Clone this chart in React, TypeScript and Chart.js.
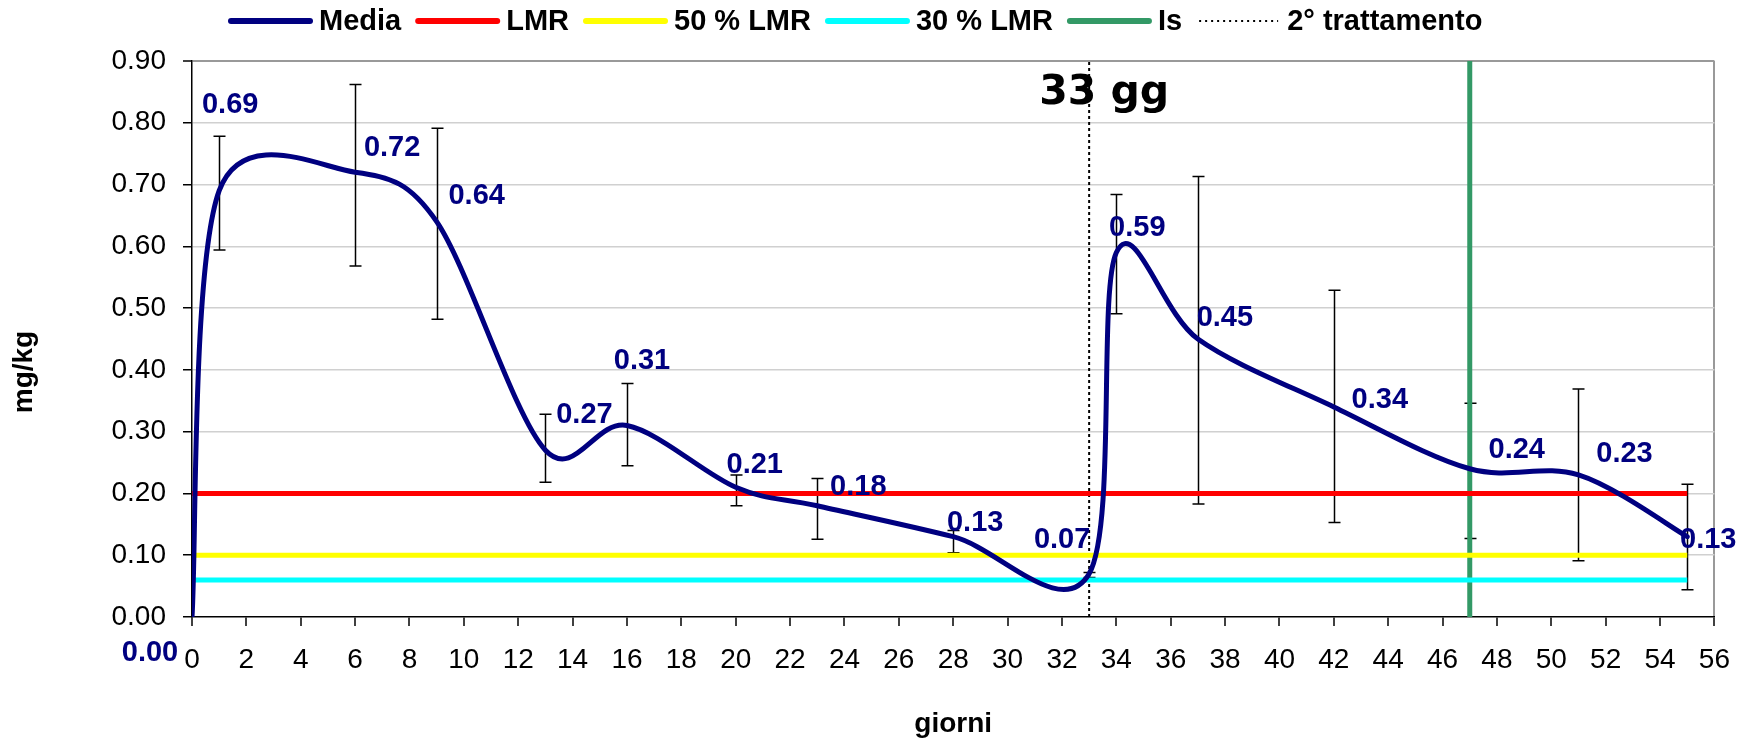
import React, { useEffect, useRef } from 'react';
import { Chart, registerables } from 'chart.js';

Chart.register(...registerables);

// ---- data ----
const days = [0, 1, 6, 9, 13, 16, 20, 23, 28, 33, 34, 37, 42, 47, 51, 55];
const media = [0.0, 0.69, 0.72, 0.64, 0.27, 0.31, 0.21, 0.18, 0.13, 0.07, 0.59, 0.45, 0.34, 0.24, 0.23, 0.13];
const errHigh = [null, 0.778, 0.862, 0.791, 0.328, 0.378, 0.23, 0.224, 0.14, 0.072, 0.684, 0.713, 0.529, 0.346, 0.369, 0.215];
const errLow = [null, 0.594, 0.568, 0.482, 0.218, 0.245, 0.18, 0.126, 0.104, 0.064, 0.491, 0.183, 0.153, 0.127, 0.091, 0.044];
const limitRange = [0, 55];
const lmrLevel = 0.2;
const lmr50Level = 0.1;
const lmr30Level = 0.06;
const isDay = 47;
const secondTreatmentDay = 33;
const yRange = [0, 0.9];
const xRange = [0, 56];
const annotationText = '33 gg';
const xTitle = 'giorni';
const yTitle = 'mg/kg';

// ---- layout (label offsets in px, not data) ----
const labelDx = [-42, 11, 37, 40, 39, 15, 19, 41, 22, -27, 21, 27, 46, 47, 46, 21];
const labelDy = [36, -86, -24, -26, -35, -64, -22, -19, -14, -34, -25, -21, -7, -19, -21, 3];

const FONT = "'Liberation Sans', Arial, sans-serif";
const NAVY = '#000080';

const excelSmooth = {
  id: 'excelSmooth',
  beforeDatasetDraw(chart: any, args: any) {
    if (args.index !== 0) return;
    const meta = args.meta;
    const pts = meta.data;
    const n = pts.length;
    const P = (i: number) => pts[Math.max(0, Math.min(n - 1, i))];
    const dist = (a: any, b: any) => Math.hypot(a.x - b.x, a.y - b.y);
    for (let i = 0; i < n; i++) {
      const p = pts[i];
      if (i < n - 1) {
        const p0 = P(i - 1), p2 = P(i + 1);
        const d12 = dist(p, p2), d02 = dist(p0, p2);
        let f = 1 / 6;
        if (d02 > 0 && d02 / 6 > d12 / 2) f = d12 / (2 * d02);
        p.cp2x = p.x + (p2.x - p0.x) * f;
        p.cp2y = p.y + (p2.y - p0.y) * f;
      } else {
        p.cp2x = p.x; p.cp2y = p.y;
      }
      if (i > 0) {
        const p0 = P(i - 1), p3 = P(i + 1);
        const d01 = dist(p0, p), d13 = dist(p0, p3);
        let f = 1 / 6;
        if (d13 > 0 && d13 / 6 > d01 / 2) f = d01 / (2 * d13);
        p.cp1x = p.x - (p3.x - p0.x) * f;
        p.cp1y = p.y - (p3.y - p0.y) * f;
      } else {
        p.cp1x = p.x; p.cp1y = p.y;
      }
    }
    meta.dataset._pointsUpdated = true;
    meta.dataset._path = undefined;
  },
};

const extras = {
  id: 'extras',
  beforeDatasetsDraw(chart: any) {
    const { ctx, scales } = chart;
    const xs = scales.x, ys = scales.y;
    // annotation text
    ctx.save();
    ctx.font = "bold 41px 'DejaVu Sans'";
    ctx.fillStyle = '#000';
    ctx.textAlign = 'center';
    ctx.textBaseline = 'alphabetic';
    ctx.fillText(annotationText, xs.getPixelForValue(secondTreatmentDay) + 15, 104);
    ctx.restore();
    // error bars
    ctx.save();
    ctx.strokeStyle = '#000';
    ctx.lineWidth = 1.5;
    for (let i = 0; i < days.length; i++) {
      const hi = errHigh[i], lo = errLow[i];
      if (hi == null || lo == null) continue;
      const x = Math.round(xs.getPixelForValue(days[i])) + 0.5;
      const yh = ys.getPixelForValue(hi), yl = ys.getPixelForValue(lo);
      ctx.beginPath();
      ctx.moveTo(x, yh); ctx.lineTo(x, yl);
      ctx.moveTo(x - 6, yh); ctx.lineTo(x + 6, yh);
      ctx.moveTo(x - 6, yl); ctx.lineTo(x + 6, yl);
      ctx.stroke();
    }
    ctx.restore();
  },
  afterDatasetsDraw(chart: any) {
    const { ctx, scales } = chart;
    const xs = scales.x, ys = scales.y;
    ctx.save();
    ctx.font = `bold 29px ${FONT}`;
    ctx.fillStyle = NAVY;
    ctx.textAlign = 'center';
    ctx.textBaseline = 'middle';
    for (let i = 0; i < days.length; i++) {
      const x = xs.getPixelForValue(days[i]) + labelDx[i];
      const y = ys.getPixelForValue(media[i]) + labelDy[i];
      ctx.fillText(media[i].toFixed(2), x, y);
    }
    ctx.restore();
  },
  afterDraw(chart: any) {
    const { ctx, chartArea } = chart;
    ctx.save();
    // axis titles
    ctx.font = `bold 28px ${FONT}`;
    ctx.fillStyle = '#000';
    ctx.textAlign = 'center';
    ctx.textBaseline = 'alphabetic';
    ctx.fillText(xTitle, (chartArea.left + chartArea.right) / 2, 732);
    ctx.save();
    ctx.translate(32, 372);
    ctx.rotate(-Math.PI / 2);
    ctx.fillText(yTitle, 0, 0);
    ctx.restore();
    // legend
    ctx.font = `bold 29px ${FONT}`;
    let x = 229;
    const y = 21;
    ctx.textAlign = 'left';
    ctx.textBaseline = 'middle';
    chart.data.datasets.forEach((ds: any) => {
      ctx.save();
      ctx.strokeStyle = ds.borderColor;
      if (ds.borderDash && ds.borderDash.length) {
        ctx.lineWidth = 2;
        ctx.setLineDash([2, 4]);
        ctx.lineCap = 'butt';
      } else {
        ctx.lineWidth = 6;
        ctx.lineCap = 'round';
      }
      ctx.beginPath();
      ctx.moveTo(x + 2, y);
      ctx.lineTo(x + 81, y);
      ctx.stroke();
      ctx.restore();
      ctx.fillStyle = '#000';
      ctx.fillText(ds.label, x + 90, y + 1);
      x += 90 + ctx.measureText(ds.label).width + 15;
    });
    ctx.restore();
  },
};

export default function App() {
  const ref = useRef<HTMLCanvasElement>(null);
  useEffect(() => {
    if (!ref.current) return;
    Chart.defaults.font.family = FONT;
    const hLine = (level: number) => limitRange.map((d) => ({ x: d, y: level }));
    const vLine = (day: number) => yRange.map((v) => ({ x: day, y: v }));
    const chart = new Chart(ref.current, {
      type: 'line',
      data: {
        datasets: [
          {
            label: 'Media',
            data: days.map((d, i) => ({ x: d, y: media[i] })),
            borderColor: NAVY,
            backgroundColor: NAVY,
            borderWidth: 5,
            pointRadius: 0,
            tension: 0.4,
            borderJoinStyle: 'round',
            borderCapStyle: 'round',
          },
          { label: 'LMR', data: hLine(lmrLevel), borderColor: '#FF0000', borderWidth: 5, pointRadius: 0 },
          { label: '50 % LMR', data: hLine(lmr50Level), borderColor: '#FFFF00', borderWidth: 5, pointRadius: 0 },
          { label: '30 % LMR', data: hLine(lmr30Level), borderColor: '#00FFFF', borderWidth: 5, pointRadius: 0 },
          { label: 'Is', data: vLine(isDay), borderColor: '#339966', borderWidth: 5, pointRadius: 0 },
          {
            label: '2° trattamento',
            data: vLine(secondTreatmentDay),
            borderColor: '#000000',
            borderWidth: 2,
            borderDash: [3, 3],
            pointRadius: 0,
          },
        ],
      },
      options: {
        animation: false,
        responsive: false,
        devicePixelRatio: 1,
        layout: { padding: { top: 61, right: 26, bottom: 0, left: 0 } },
        plugins: { legend: { display: false }, tooltip: { enabled: false } },
        scales: {
          x: {
            type: 'linear',
            min: xRange[0],
            max: xRange[1],
            ticks: { stepSize: 2, font: { size: 28 }, color: '#000', padding: 17, maxRotation: 0, autoSkip: false },
            grid: {
              color: (c: any) => (c.tick && c.tick.value === xRange[1] ? '#999999' : 'rgba(0,0,0,0)'),
              lineWidth: 2,
              tickColor: '#000',
              tickLength: 9,
              tickWidth: 1.5,
            },
            border: { color: '#000', width: 1.5 },
            afterFit: (s: any) => { s.height = 124; },
          },
          y: {
            min: yRange[0],
            max: yRange[1],
            ticks: {
              stepSize: 0.1,
              font: { size: 28 },
              color: '#000',
              padding: 17,
              callback: (v: any) => Number(v).toFixed(2),
            },
            grid: {
              color: (c: any) => {
                const v = c.tick ? c.tick.value : 0;
                if (v > yRange[1] - 0.001) return '#999999';
                if (v < 0.001) return 'rgba(0,0,0,0)';
                return '#d0d0d0';
              },
              lineWidth: (c: any) => (c.tick && c.tick.value > yRange[1] - 0.001 ? 2 : 1.5),
              tickColor: '#000',
              tickLength: 9,
              tickWidth: 1.5,
            },
            border: { color: '#000', width: 1.5 },
            afterFit: (s: any) => { s.width = 192; },
          },
        },
      },
      plugins: [excelSmooth, extras],
    } as any);
    return () => chart.destroy();
  }, []);
  return (
    <div style={{ position: 'fixed', left: 0, top: 0, width: 1747, height: 741, background: '#fff' }}>
      <canvas ref={ref} width={1747} height={741} style={{ display: 'block' }} />
    </div>
  );
}
